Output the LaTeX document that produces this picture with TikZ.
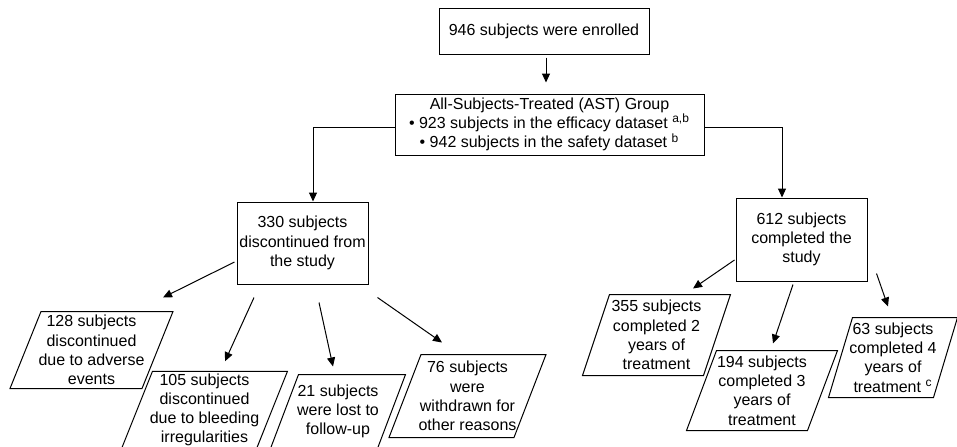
\documentclass[tikz,border=0pt]{standalone}
\usepackage{fontspec}
\setmainfont{Liberation Sans}
\usetikzlibrary{arrows.meta}

\begin{document}
\begin{tikzpicture}[x=0.5pt, y=-0.5pt, line width=0.5pt,
  font=\fontsize{8}{9.6}\selectfont,
  box/.style={draw, rectangle, align=center, inner sep=1pt},
  para/.style={rectangle, align=center, inner sep=1pt},
  arr/.style={-{Triangle[length=4.5pt, width=4pt]}}]

\useasboundingbox (0,0) rectangle (957,446);
\clip (0,0) rectangle (957,446);

\node[box, minimum width=105pt, minimum height=23pt] (enrol) at (544,31)
  {946 subjects were enrolled};
\node[box, minimum width=154.5pt, minimum height=30.5pt] (ast) at (549.5,124.5)
  {All-Subjects-Treated (AST) Group\\
   \textbullet\ 923 subjects in the efficacy dataset \textsuperscript{a,b}\\
   \textbullet\ 942 subjects in the safety dataset \textsuperscript{b}};

\node[box, minimum width=65.5pt, minimum height=41pt] (disc) at (302.5,243)
  {330 subjects\\discontinued from\\the study};
\node[box, minimum width=65.5pt, minimum height=41.5pt] (comp) at (801.5,239.5)
  {612 subjects\\completed the\\study};

% reasons for discontinuation
\node[para, minimum width=65.5pt, minimum height=38pt] (ae) at (91.5,350)
  {128 subjects\\discontinued\\due to adverse\\events};
\node[para, minimum width=67pt, minimum height=38pt] (bleed) at (204.5,410)
  {105 subjects\\discontinued\\due to bleeding\\irregularities};
\node[para, minimum width=53pt, minimum height=36.5pt] (lost) at (338,411.5)
  {21 subjects\\were lost to\\follow-up};
\node[para, minimum width=62pt, minimum height=41pt] (withdr) at (467.5,396)
  {76 subjects\\were\\withdrawn for\\other reasons};

% years of treatment
\node[para, minimum width=60pt, minimum height=40pt] (yr2) at (656.5,335)
  {355 subjects\\completed 2\\years of\\treatment};
\node[para, minimum width=60pt, minimum height=39.5pt] (yr3) at (762,390.5)
  {194 subjects\\completed 3\\years of\\treatment};
\node[para, minimum width=52pt, minimum height=39.5pt] (yr4) at (893,357.5)
  {63 subjects\\completed 4\\years of\\treatment \textsuperscript{c}};

% slanted outlines
\foreach \n/\s in {ae/7.75pt, bleed/7.75pt, lost/7pt, withdr/8pt,
                   yr2/6.75pt, yr3/7.5pt, yr4/6pt}
  \draw ([xshift=\s]\n.north west) -- ([xshift=\s]\n.north east)
    -- ([xshift=-\s]\n.south east) -- ([xshift=-\s]\n.south west) -- cycle;

\draw[arr, shorten <=1.5pt, shorten >=5.5pt]
  ([xshift=1pt]enrol.south) -- ([xshift=1pt]enrol.south |- ast.north);
\draw[arr] ([yshift=-1.5pt]ast.west) -| ([xshift=5.25pt]disc.north);
\draw[arr] ([yshift=-1.25pt]ast.east) -| ([xshift=-9.75pt]comp.north);

\draw[arr] ([xshift=-1pt, yshift=-9.5pt]disc.west)
  -- ([xshift=35.75pt, yshift=7pt]ae.north);
\draw[arr] ([xshift=-24.25pt, yshift=-6.5pt]disc.south)
  -- ([xshift=10.25pt, yshift=5pt]bleed.north);
\draw[arr] ([xshift=8.25pt, yshift=-9pt]disc.south)
  -- ([xshift=-2.5pt, yshift=4pt]lost.north);
\draw[arr] ([xshift=4.5pt, yshift=-6.5pt]disc.south east)
  -- ([xshift=-12.75pt, yshift=6pt]withdr.north);

\draw[arr] ([xshift=-0.5pt, yshift=-10.25pt]comp.west)
  -- ([xshift=18.25pt, yshift=3pt]yr2.north);
\draw[arr] ([xshift=-4.25pt, yshift=-1.5pt]comp.south)
  -- ([xshift=5.5pt, yshift=3.5pt]yr3.north);
\draw[arr] ([xshift=4.5pt, yshift=4pt]comp.south east)
  -- ([xshift=-2.5pt, yshift=5.5pt]yr4.north);

\end{tikzpicture}
\end{document}
